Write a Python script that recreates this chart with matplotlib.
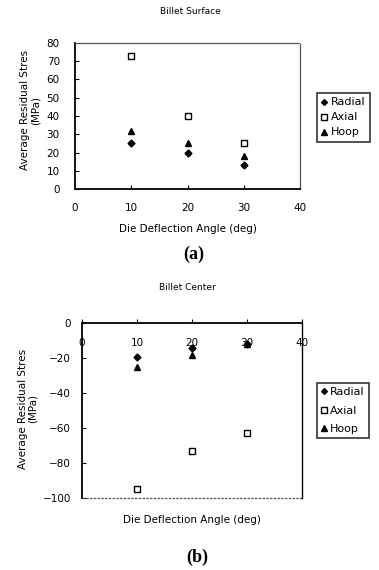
import matplotlib.pyplot as plt
import numpy as np

plt.rcParams['font.family'] = ['DejaVu Sans']

# data
angles = [10, 20, 30]
surf_radial = [25.5, 20, 13]
surf_axial = [72.5, 40, 25]
surf_hoop = [32, 25, 18]
cent_radial = [-19.5, -14, -12]
cent_axial = [-95, -73, -63]
cent_hoop = [-25, -18, -12]

series_names = ['Radial', 'Axial', 'Hoop']
markers = ['D', 's', '^']
fills = ['black', 'white', 'black']
sizes = [3.5, 5, 4.5]

fs = 7.5

fig = plt.figure(figsize=(3.79, 5.70), dpi=100)

# ---- (a) Billet Surface ----
ax1 = fig.add_axes([0.198, 0.668, 0.594, 0.257])
for vals, name, m, fc, s in zip([surf_radial, surf_axial, surf_hoop], series_names, markers, fills, sizes):
    ax1.plot(angles, vals, linestyle='none', marker=m, markersize=s,
             markerfacecolor=fc, markeredgecolor='black', markeredgewidth=1.0, label=name)
ax1.set_xlim(0, 40)
ax1.set_ylim(0, 80)
ax1.set_xticks(np.arange(0, 41, 10))
ax1.set_yticks(np.arange(0, 81, 10))
ax1.tick_params(direction='in', length=3, labelsize=fs)
ax1.tick_params(axis='x', pad=10)
ax1.tick_params(axis='y', pad=11)
for side in ['top', 'right']:
    ax1.spines[side].set_color('#555555')
    ax1.spines[side].set_linestyle((0, (2, 1)))
    ax1.spines[side].set_linewidth(0.9)
for side in ['left', 'bottom']:
    ax1.spines[side].set_linewidth(1.3)
ax1.set_xlabel('Die Deflection Angle (deg)', fontsize=fs, labelpad=8)
ax1.set_ylabel('Average Residual Stres\n(MPa)', fontsize=fs, linespacing=1.0)
ax1.yaxis.set_label_coords(-0.155, 0.54)
leg1 = ax1.legend(loc='center left', bbox_to_anchor=(1.076, 0.49), fontsize=fs + 0.5,
                  frameon=True, fancybox=False, edgecolor='black', handlelength=0.5,
                  handletextpad=0.3, borderpad=0.4, labelspacing=0.45, borderaxespad=0,
                  markerscale=0.85)
leg1.get_frame().set_linewidth(1.2)
fig.text(0.501, 0.979, 'Billet Surface', ha='center', va='center', fontsize=6.5)
fig.text(0.51, 0.553, '(a)', ha='center', va='center', fontsize=13,
         family='Liberation Serif', fontweight='bold')

# ---- (b) Billet Center ----
ax2 = fig.add_axes([0.216, 0.126, 0.581, 0.307])
for vals, name, m, fc, s in zip([cent_radial, cent_axial, cent_hoop], series_names, markers, fills, sizes):
    ax2.plot(angles, vals, linestyle='none', marker=m, markersize=s,
             markerfacecolor=fc, markeredgecolor='black', markeredgewidth=1.0, label=name)
ax2.set_xlim(0, 40)
ax2.set_ylim(-100, 0)
ax2.set_xticks(np.arange(0, 41, 10))
ax2.set_yticks(np.arange(-100, 1, 20))
ax2.spines['bottom'].set_position(('data', 0))
ax2.spines['bottom'].set_linewidth(1.3)
ax2.spines['left'].set_linewidth(1.3)
ax2.spines['right'].set_linewidth(1.0)
ax2.spines['top'].set_visible(False)
ax2.axhline(-100, color='#555555', linestyle=(0, (2, 1)), linewidth=0.9, clip_on=False)
ax2.tick_params(direction='in', length=3, labelsize=fs)
ax2.tick_params(axis='x', pad=11)
ax2.tick_params(axis='y', pad=8)
ax2.set_ylabel('Average Residual Stres\n(MPa)', fontsize=fs, linespacing=1.0)
ax2.yaxis.set_label_coords(-0.2, 0.51)
ax2.text(0.5, -0.126, 'Die Deflection Angle (deg)', transform=ax2.transAxes,
         ha='center', va='center', fontsize=fs)
leg2 = ax2.legend(loc='center left', bbox_to_anchor=(1.068, 0.5), fontsize=fs + 0.5,
                  frameon=True, fancybox=False, edgecolor='black', handlelength=0.5,
                  handletextpad=0.3, borderpad=0.4, labelspacing=0.75, borderaxespad=0,
                  markerscale=0.85)
leg2.get_frame().set_linewidth(1.2)
fig.text(0.495, 0.495, 'Billet Center', ha='center', va='center', fontsize=6.5)
fig.text(0.52, 0.023, '(b)', ha='center', va='center', fontsize=13,
         family='Liberation Serif', fontweight='bold')

fig.savefig('out.png', dpi=100)
